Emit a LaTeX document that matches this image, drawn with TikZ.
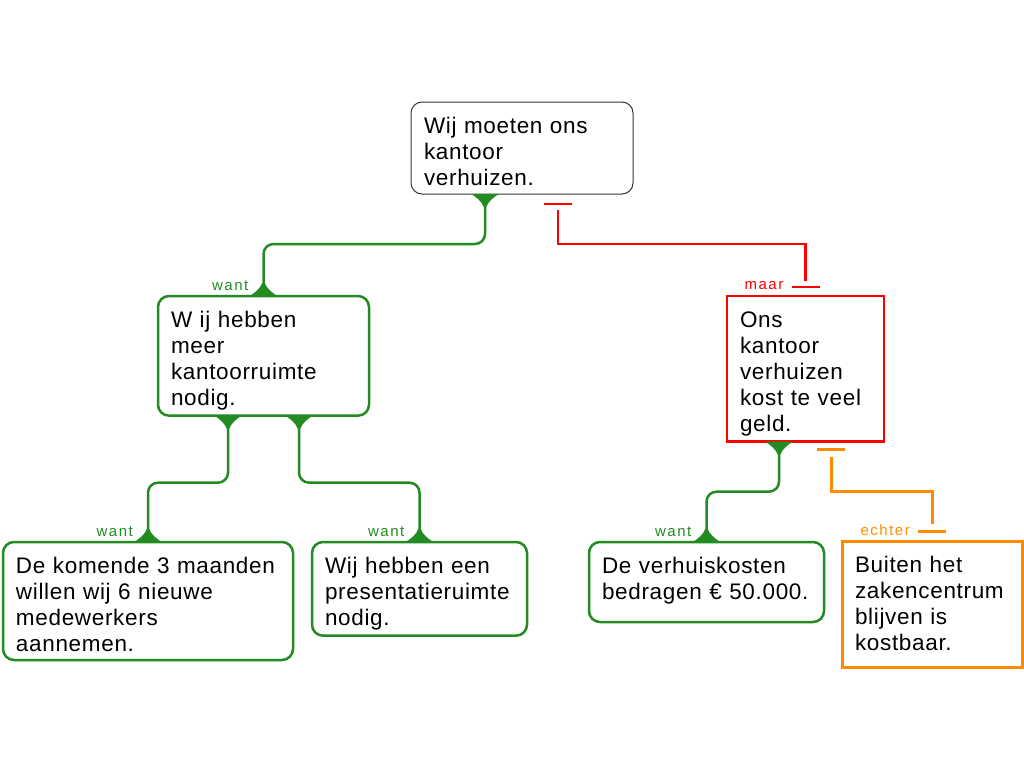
\documentclass[tikz,border=0pt]{standalone}
\usepackage{fontspec}
\setmainfont{Liberation Sans}
\newfontfamily\boxfont[LetterSpace=3]{Liberation Sans}
\newfontfamily\lblfont[LetterSpace=10]{Liberation Sans}
\usepackage{tikz}
\usetikzlibrary{positioning}
\definecolor{wantgreen}{RGB}{34,139,34}
\definecolor{maarred}{RGB}{255,0,0}
\definecolor{echterorange}{RGB}{255,140,0}
\newcommand{\firstln}{\rule{0pt}{25pt}}
\newcommand{\lastln}[1][3]{\rule[-#1pt]{0pt}{#1pt}}
\hyphenpenalty=10000
\exhyphenpenalty=10000

\begin{document}
\begin{tikzpicture}[x=1pt, y=-1pt,
  flare/.pic={\fill (-14,0) .. controls (-10,2) and (-2.5,8) .. (-1.3,13) -- (1.3,13) .. controls (2.5,8) and (10,2) .. (14,0) -- cycle;}]
	\tikzstyle{box}=[anchor=north west, outer sep=0pt, inner xsep=13pt, inner ysep=6pt, align=left, font=\boxfont\fontsize{22.5}{26}\selectfont, text=black]
	\tikzstyle{claim}=[box, draw=black!80, line width=1pt, rounded corners=11pt]
	\tikzstyle{wantbox}=[box, draw=wantgreen, line width=2.5pt, rounded corners=11pt]
	\tikzstyle{maarbox}=[box, draw=maarred, line width=2.5pt]
	\tikzstyle{echterbox}=[box, draw=echterorange, line width=3pt]
	\tikzstyle{wantline}=[draw=wantgreen, line width=2.5pt, rounded corners=10pt]
	\tikzstyle{maarline}=[draw=maarred, line width=2.5pt]
	\tikzstyle{echterline}=[draw=echterorange, line width=3pt]
	\tikzstyle{lbl}=[anchor=base east, inner sep=0pt, font=\lblfont\fontsize{15}{18}\selectfont]

	\useasboundingbox (0,0) rectangle (1024,768);

	% Draw boxes
	\node[claim, text width=196pt] (top) at (411,102) {\firstln Wij moeten ons\\kantoor\\verhuizen.\lastln};
	\node[wantbox, text width=185pt] (meer) at (158,296) {\firstln W ij hebben\\meer\\kantoorruimte\\nodig.\lastln};
	\node[maarbox, text width=131pt] (kost) at (727,296) {\firstln Ons\\kantoor\\verhuizen\\kost te veel\\geld.\lastln};
	\node[wantbox, text width=264pt] (mdw) at (3,542) {\firstln De komende 3 maanden\\willen wij 6 nieuwe\\medewerkers\\aannemen.\lastln};
	\node[wantbox, text width=189pt] (pres) at (312,542) {\firstln Wij hebben een\\presentatieruimte\\nodig.\lastln};
	\node[wantbox, text width=209pt] (bedrag) at (589,542) {\firstln De verhuiskosten\\bedragen € 50.000.\lastln[17]};
	\node[echterbox, text width=154pt] (buiten) at (842,541) {\firstln Buiten het\\zakencentrum\\blijven is\\kostbaar.\lastln[11]};

	% Draw want connectors
	\coordinate (topw) at ([xshift=-37pt]top.south);
	\coordinate (meerl) at ([xshift=-35.5pt]meer.south);
	\coordinate (meerr) at ([xshift=35.5pt]meer.south);
	\coordinate (kostw) at ([xshift=-26.5pt]kost.south);
	\draw[wantline] (topw) -- ++(0,50) -| (meer.north);
	\draw[wantline] (meerl) -- ++(0,67) -| (mdw.north);
	\draw[wantline] (meerr) -- ++(0,67) -| (pres.north);
	\draw[wantline] (kostw) -- ++(0,50) -| (bedrag.north);
	\foreach \p in {topw,meerl,meerr,kostw}
		\path[fill=wantgreen] (\p) pic {flare};
	\foreach \p in {meer,mdw,pres,bedrag}
		\path[fill=wantgreen] (\p.north) pic[yscale=-1] {flare};

	% Draw maar and echter connectors
	\coordinate (maarS) at ([xshift=36pt,yshift=-10pt]top.south);
	\coordinate (maarE) at ([yshift=9pt]kost.north);
	\draw[maarline] ([yshift=-6pt]maarS) -- ++(0,34) -| ([yshift=6pt]maarE);
	\draw[maarline] ([xshift=-14pt]maarS) -- ([xshift=14pt]maarS);
	\draw[maarline] ([xshift=-14pt]maarE) -- ([xshift=14pt]maarE);
	\coordinate (echS) at ([xshift=25.5pt,yshift=-8pt]kost.south);
	\coordinate (echE) at ([yshift=10pt]buiten.north);
	\draw[echterline] ([yshift=-7pt]echS) -- ++(0,35) -| ([yshift=7pt]echE);
	\draw[echterline] ([xshift=-14pt]echS) -- ([xshift=14pt]echS);
	\draw[echterline] ([xshift=-14pt]echE) -- ([xshift=14pt]echE);

	% Labels
	\foreach \b in {meer,mdw,pres,bedrag}
		\node[lbl, text=wantgreen] at ([xshift=-15pt,yshift=6pt]\b.north) {want};
	\node[lbl, text=maarred] (maar) at ([xshift=-22pt,yshift=7pt]kost.north) {maar};
	\node[lbl, text=echterorange] (echter) at ([xshift=-22pt,yshift=6pt]buiten.north) {echter};

\end{tikzpicture}
\end{document}
